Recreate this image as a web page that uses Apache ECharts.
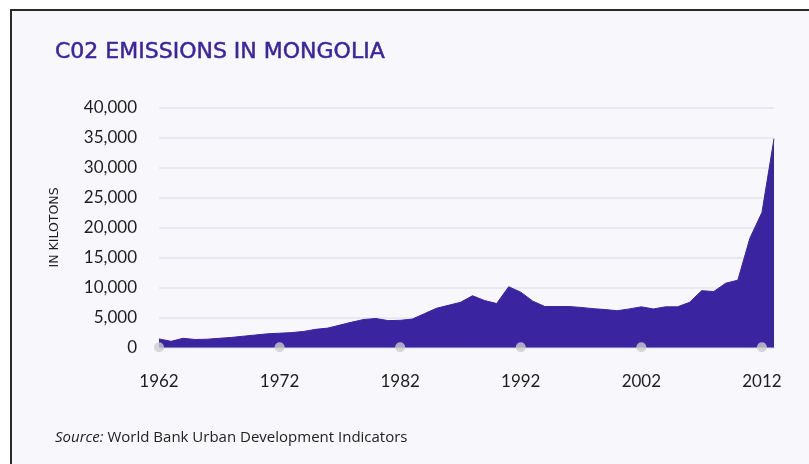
<!DOCTYPE html>
<html>
<head>
<meta charset="utf-8">
<script src="https://cdn.jsdelivr.net/npm/echarts@6/dist/echarts.min.js"></script>
<style>
  html, body { margin: 0; padding: 0; background: #ffffff; }
  #card {
    position: absolute; left: 10px; top: 9px; right: 0; bottom: 0;
    background: #f8f8fc;
    border-left: 2px solid #2a2a2a;
    border-top: 2px solid #2a2a2a;
  }
  #main { position: absolute; left: 0; top: 0; width: 809px; height: 464px; }
</style>
</head>
<body>
<div id="card"></div>
<div id="main"></div>
<script>
// CO2 emissions, kilotons, 1962-2013
const years = [];
for (let y = 1962; y <= 2013; y++) years.push(String(y));

const emissions = [
  1400, 1000, 1500, 1300, 1350, 1500, 1650, 1850, 2050, 2250,
  2350, 2450, 2650, 3000, 3200, 3700, 4200, 4650, 4800, 4450,
  4500, 4700, 5600, 6500, 7000, 7500, 8600, 7800, 7300, 10100,
  9200, 7700, 6800, 6800, 6800, 6650, 6450, 6300, 6100, 6400,
  6750, 6400, 6750, 6750, 7500, 9450, 9300, 10700, 11200, 18200,
  22500, 34800
];

const tickYears = ['1962', '1972', '1982', '1992', '2002', '2012'];

const purple = '#3b24a0';
const fontFam = 'Lato, "Open Sans", sans-serif';
const wideFam = '"Open Sans", Lato, sans-serif';
const titleFam = '"DejaVu Sans", "Open Sans", sans-serif';

const chart = echarts.init(document.getElementById('main'));
chart.setOption({
  backgroundColor: 'transparent',
  animation: false,
  title: {
    text: 'C02 EMISSIONS IN MONGOLIA',
    left: 50,
    top: 36,
    textStyle: {
      color: purple,
      fontFamily: titleFam,
      fontSize: 22,
      fontWeight: 'normal',
      textBorderColor: purple,
      textBorderWidth: 0.5
    }
  },
  grid: { left: 159, right: 35, top: 107.5, bottom: 116.7 },
  xAxis: {
    type: 'category',
    data: years,
    boundaryGap: false,
    axisLine: { show: true, lineStyle: { color: '#9a8fd0', width: 1 } },
    axisTick: { show: false },
    axisLabel: {
      interval: 9,
      margin: 26,
      color: '#1e1e1e',
      fontFamily: fontFam,
      fontSize: 17
    }
  },
  yAxis: {
    type: 'value',
    min: 0,
    max: 40000,
    interval: 5000,
    name: 'IN KILOTONS',
    nameLocation: 'middle',
    nameRotate: 90,
    nameGap: 98,
    nameTextStyle: {
      color: '#1e1e1e',
      fontFamily: titleFam,
      fontSize: 12.5
    },
    axisLine: { show: false },
    axisTick: { show: false },
    splitLine: { lineStyle: { color: '#e4e4ec', width: 1.5 } },
    axisLabel: {
      margin: 22,
      color: '#1e1e1e',
      fontFamily: fontFam,
      fontSize: 17,
      formatter: v => v.toLocaleString('en-US')
    }
  },
  series: [
    {
      type: 'line',
      data: emissions,
      symbol: 'none',
      lineStyle: { color: purple, width: 1 },
      areaStyle: { color: purple, opacity: 1 },
      z: 2
    },
    {
      type: 'scatter',
      data: tickYears.map(y => [y, 0]),
      symbolSize: 10,
      itemStyle: { color: '#cdcdcd' },
      z: 5
    }
  ],
  graphic: [
    {
      type: 'text',
      left: 55,
      top: 430,
      style: {
        text: '{i|Source:} World Bank Urban Development Indicators',
        fill: '#222',
        font: '15px ' + wideFam,
        rich: {
          i: { fontStyle: 'italic', fontSize: 15, fontFamily: wideFam, fill: '#222' }
        }
      }
    }
  ]
});
</script>
</body>
</html>
